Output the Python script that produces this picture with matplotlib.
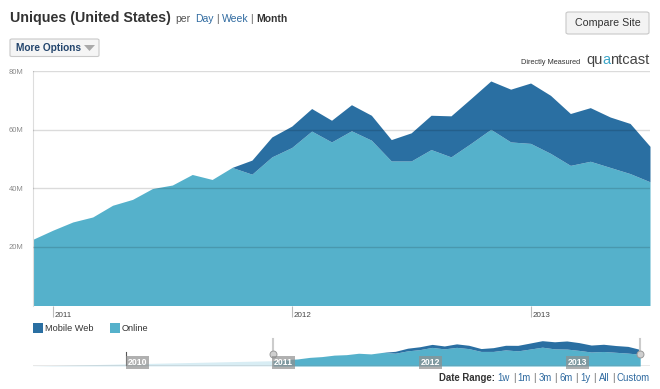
import numpy as np
import pandas as pd
import matplotlib
matplotlib.use("Agg")
import matplotlib.pyplot as plt
from matplotlib.patches import Rectangle, FancyBboxPatch, Polygon

plt.rcParams['font.family'] = ['Liberation Sans', 'DejaVu Sans']

# monthly uniques, millions (Dec 2010 .. Jul 2013)
months = pd.period_range('2010-12', '2013-07', freq='M')
online = [22.6, 25.7, 28.5, 30.2, 34.2, 36.2, 39.9, 41.1, 44.7, 43.0,
          47.1, 44.8, 50.7, 53.9, 59.5, 55.8, 59.6, 56.4, 49.3, 49.3,
          53.2, 50.7, 55.3, 60.1, 55.8, 55.3, 51.9, 47.8, 49.2, 47.1,
          45.0, 42.2]
mobile = [0, 0, 0, 0, 0, 0, 0, 0, 0, 0,
          0, 4.8, 6.8, 7.3, 7.7, 7.4, 8.9, 8.5, 7.3, 9.6,
          11.7, 14.0, 15.3, 16.5, 18.0, 20.6, 19.8, 17.7, 18.3, 17.2,
          17.1, 12.1]
yticks = [20, 40, 60, 80]
ytick_labels = ['20M', '40M', '60M', '80M']
series_names = ['Mobile Web', 'Online']

# navigator history before the selected range
nav_early_months = pd.PeriodIndex(['2009-05', '2011-01'], freq='M')
nav_early_values = [12.3, 25.7]
nav_years = ['2010', '2011', '2012', '2013']
range_links = ['1w', '1m', '3m', '6m', '1y', 'All', 'Custom']

DARK = '#2a6fa2'
LIGHT = '#55b1cb'
PALE = '#d8edf4'
LINK = '#2f6aa0'

W, H = 660, 389
fig = plt.figure(figsize=(W / 100, H / 100), dpi=100)
r = fig.canvas.get_renderer()


def P(x, y):
    return x / W, 1 - y / H


def chain(x, y, parts, gap=0, **kw):
    for s, props in parts:
        t = fig.text(*P(x, y), s, **kw, **props)
        x += t.get_window_extent(r).width + gap
    return x


def month_idx(p):
    return np.array([(m - months[0]).n for m in p])


x = np.arange(len(months))
online = np.array(online)
total = online + np.array(mobile)

# main chart
ax = fig.add_axes([33 / W, 1 - 305.5 / H, 617 / W, 234.5 / H])
ax.fill_between(x, 0, online, color=LIGHT, lw=0, zorder=2)
ax.fill_between(x, online, total, where=total > online, interpolate=True,
                color=DARK, lw=0, zorder=2)
for v in yticks:
    ax.axhline(v, color='#000000', alpha=0.14, lw=1, zorder=3)
ax.set_xlim(0, len(months) - 1)
ax.set_ylim(0, 80)
for s in ['top', 'right', 'bottom']:
    ax.spines[s].set_visible(False)
ax.spines['left'].set_color('#dddddd')
ax.set_yticks(yticks)
ax.set_yticklabels(ytick_labels, fontsize=5.5, color='#8a8a8a')
ax.tick_params(axis='y', length=0, pad=7)
jan = x[months.month == 1]
ax.set_xticks(jan)
ax.set_xticklabels([])
ax.tick_params(axis='x', length=8, width=0.8, color='#bbbbbb', direction='out')
for xi in jan:
    ax.text(xi + 0.1, -3.5, str(months[xi].year), fontsize=5.8, color='#444444',
            ha='left', va='center', clip_on=False)

# header
fig.text(*P(10, 22), 'Uniques (United States)', fontsize=10.3, weight='bold',
         color='#333333', va='baseline')
fig.text(*P(175.5, 21.5), 'per', fontsize=7.5, color='#555555', va='baseline')
fig.text(*P(195, 21.5), 'Day', fontsize=7.5, color=LINK, va='baseline')
fig.text(*P(216.5, 21.5), '|', fontsize=7.5, color='#666666', va='baseline')
fig.text(*P(222, 21.5), 'Week', fontsize=7.5, color=LINK, va='baseline')
fig.text(*P(250.5, 21.5), '|', fontsize=7.5, color='#666666', va='baseline')
fig.text(*P(256, 21.5), 'Month', fontsize=7.5, weight='bold', color='#333333',
         va='baseline')

# buttons
fig.add_artist(FancyBboxPatch(P(10, 56.5), 89 / W, 17.5 / H,
                              boxstyle='round,pad=0,rounding_size=0.003',
                              transform=fig.transFigure, fc='#f5f5f5',
                              ec='#c9c9c9', lw=0.8))
fig.text(*P(16, 48), 'More Options', fontsize=7.3, weight='bold',
         color='#23456d', va='center')
fig.add_artist(Polygon([P(84, 45), P(95, 45), P(89.5, 51)], closed=True,
                       transform=fig.transFigure, fc='#aaaaaa', ec='none'))
fig.add_artist(FancyBboxPatch(P(566, 34), 83 / W, 22 / H,
                              boxstyle='round,pad=0,rounding_size=0.004',
                              transform=fig.transFigure, fc='#f3f3f3',
                              ec='#c8c8c8', lw=0.8))
fig.text(*P(607.5, 23.5), 'Compare Site', fontsize=7.7, color='#333333',
         ha='center', va='center')

# logo
fig.text(*P(580, 62.5), 'Directly Measured', fontsize=5.3, color='#333333',
         ha='right', va='center')
chain(586, 64, [('qu', {'color': '#444444'}), ('a', {'color': '#3ea6c8'}),
                ('ntcast', {'color': '#444444'})], fontsize=10.5, va='baseline')

# legend
fig.add_artist(Rectangle(P(33, 333), 10 / W, 10 / H, transform=fig.transFigure,
                         fc=DARK, ec='none'))
fig.text(*P(45, 328.5), series_names[0], fontsize=6.6, color='#333333', va='center')
fig.add_artist(Rectangle(P(110, 333), 10 / W, 10 / H, transform=fig.transFigure,
                         fc=LIGHT, ec='none'))
fig.text(*P(122, 328.5), series_names[1], fontsize=6.6, color='#333333', va='center')

# navigator
nav = fig.add_axes([33 / W, 1 - 366 / H, 617 / W, 28 / H])
ne = month_idx(nav_early_months)
nav.fill_between(ne, 12.3, nav_early_values, color=PALE, lw=0)
nav.fill_between(x[1:], 12.3, online[1:], color=LIGHT, lw=0)
nav.fill_between(x[1:], online[1:], total[1:], color=DARK, lw=0)
nav.set_xlim(-18.6, 31.8)
nav.set_ylim(12.3, 83.4)
nav.axis('off')
nav.axhline(12.3, color='#8c8c8c', lw=1)
nav.plot([-11, -11], [12.3, 48], color='#555555', lw=0.8)
for i, yr in enumerate(nav_years):
    xi = -11 + 12 * i
    nav.text(xi + 0.1, 21.5, yr, fontsize=6.3, color='white', weight='bold',
             ha='left', va='center',
             bbox=dict(boxstyle='square,pad=0.2', fc='#8f8f8f', ec='none',
                       alpha=0.7))
for xi in [1, len(months) - 1]:
    nav.plot([xi, xi], [50, 80], color='#cccccc', lw=1.5, clip_on=False)
    nav.plot(xi, 42, 'o', ms=5, mfc='#cfcfcf', mec='#999999', mew=0.7,
             clip_on=False)

# date range
parts = [('Date Range:', {'weight': 'bold', 'color': '#333333'})]
for j, s in enumerate(range_links):
    parts.append((s, {'color': LINK}))
    if j < len(range_links) - 1:
        parts.append(('|', {'color': '#666666'}))
tmp = [fig.text(0, 0, s, fontsize=6.9, **p) for s, p in parts]
wtot = sum(t.get_window_extent(r).width for t in tmp) + 2.6 * (len(parts) - 1)
for t in tmp:
    t.remove()
chain(650 - wtot, 381, parts, gap=2.6, fontsize=6.9, va='baseline')

fig.savefig('out.png', dpi=100)
